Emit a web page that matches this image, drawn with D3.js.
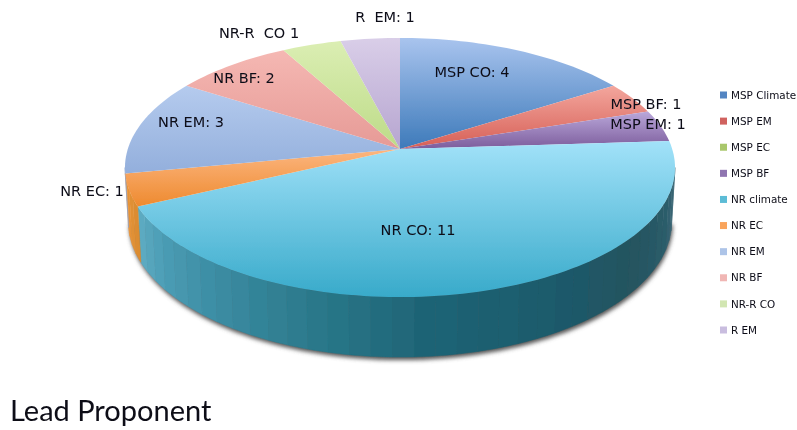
<!DOCTYPE html>
<html>
<head>
<meta charset="utf-8">
<script src="https://cdn.jsdelivr.net/npm/d3@7"></script>
<style>
  html, body { margin: 0; padding: 0; background: #fff; }
  svg { display: block; }
  text { fill: #0c0c18; }
</style>
</head>
<body>
<div id="chart"></div>
<script>
// dati
var categories = ["MSP Climate", "MSP EM", "MSP EC", "MSP BF", "NR climate", "NR EC", "NR EM", "NR BF", "NR-R CO", "R EM"];
var values = [4, 1, 0, 1, 11, 1, 3, 2, 1, 1];
var sliceLabels = ["MSP CO: 4", "MSP BF: 1", "", "MSP EM: 1", "NR CO: 11", "NR EC: 1", "NR EM: 3", "NR BF: 2", "NR-R  CO 1", "R  EM: 1"];
var title = "Lead Proponent";

var legendColors = ["#5285c2", "#d0625f", "#a9c76c", "#8f74b0", "#5cbcd6", "#f9a45c", "#adc4e8", "#f0b6b4", "#d2e6b2", "#c9bddf"];
var topColors = ["#a9c4ee", "#f3a69d", "#c6dc92", "#baa8da", "#a2e2f9", "#fcb680", "#b5cbee", "#f5b8b3", "#dbeeb3", "#d9cee8"];
var bottomColors = ["#3d7aba", "#d65f56", "#93b84f", "#7c5c9c", "#38aaca", "#ee8a2f", "#93afdc", "#e69a96", "#bddb88", "#b6a5d0"];

// posizione delle etichette, centro del testo
var labelX = [472, 646, 0, 648, 418, 92, 191, 244, 259, 385];
var labelY = [72, 104, 0, 124, 230, 191, 122, 78, 33, 17];

var width = 797;
var height = 430;

// la torta e' in prospettiva: l'apice non sta al centro dell'ellisse
var cx = 400, cy = 149;
var rx = 272.2, ry = 126.9;
var persp = 1 / 7;
var depth = 53;
var shrink = 0.988;

function project(a, lower) {
    var px = Math.sin(a), py = -Math.cos(a);
    var w = 1 - persp * py;
    var sx = rx * px / w, sy = ry * py / w;
    if (lower)
        return [cx + sx * shrink, cy + sy * shrink + depth / w];
    return [cx + sx, cy + sy];
}

var line = d3.line();
var svg = d3.select("#chart").append("svg")
            .attr("width", width)
            .attr("height", height)
            .style("font-family", "'DejaVu Sans', sans-serif");

var defs = svg.append("defs");
defs.append("filter").attr("id", "ombra")
    .attr("x", "-5%").attr("y", "-5%").attr("width", "110%").attr("height", "110%")
    .append("feGaussianBlur").attr("stdDeviation", 2.2);
defs.append("filter").attr("id", "sfoca")
    .attr("x", "-5%").attr("y", "-5%").attr("width", "110%").attr("height", "110%")
    .append("feGaussianBlur").attr("stdDeviation", 0.4);

var arcs = d3.pie().sort(null).value(d => d).startAngle(0).endAngle(2 * Math.PI)(values);

arcs.forEach(function(d, i) {
    var grad = defs.append("linearGradient").attr("id", "fetta" + i)
                   .attr("x1", 0).attr("y1", 0).attr("x2", 0).attr("y2", 1);
    grad.append("stop").attr("offset", 0).attr("stop-color", topColors[i]);
    grad.append("stop").attr("offset", 1).attr("stop-color", bottomColors[i]);
});

var chart = svg.append("g").attr("filter", "url(#sfoca)");

// il bordo laterale si vede solo tra i due estremi orizzontali
var wallStart = Math.acos(-persp);
var wallEnd = 2 * Math.PI - wallStart;
var step = 4 * Math.PI / 180;

function sample(a0, a1, n) {
    return d3.range(n + 1).map(k => a0 + (a1 - a0) * k / n);
}

// ombra sotto il bordo
var shadowAngles = sample(wallStart, wallEnd, 80);
chart.append("path")
     .attr("d", line(shadowAngles.map(a => project(a, true))) + "Z")
     .attr("transform", "translate(1,3)")
     .attr("fill", "#555")
     .attr("filter", "url(#ombra)");

var deg = Math.PI / 180;
var wallColor = {
    4: d3.scaleLinear()
         .domain([98, 112, 130, 150, 175, 195, 215, 232, 245].map(v => v * deg))
         .range(["#436c7a", "#2c5d6b", "#24545f", "#1b5a6b", "#1f6475", "#29788a", "#3a8ba1", "#4b9cb4", "#5fadc4"]),
    5: d3.scaleLinear().domain([245 * deg, 260 * deg]).range(["#d98a30", "#ee9a40"]),
    6: d3.scaleLinear().domain([259 * deg, 262 * deg]).range(["#8aa3cf", "#8aa3cf"])
};

// bordo laterale, a strisce come nel riferimento
var stripes = [];
arcs.forEach(function(d, i) {
    var a0 = Math.max(d.startAngle, wallStart);
    var a1 = Math.min(d.endAngle, wallEnd);
    if (a1 <= a0 || !wallColor[i]) return;
    var n = Math.max(1, Math.ceil((a1 - a0) / step));
    d3.range(n).forEach(function(k) {
        stripes.push({a0: a0 + (a1 - a0) * k / n, a1: a0 + (a1 - a0) * (k + 1) / n, color: wallColor[i]});
    });
});

chart.append("g").selectAll("path")
     .data(stripes)
     .join("path")
     .attr("d", function(s) {
         var angles = sample(s.a0, s.a1, 4);
         var upper = angles.map(a => project(a, false));
         var lower = angles.slice().reverse().map(a => project(a, true));
         return line(upper.concat(lower)) + "Z";
     })
     .attr("fill", s => s.color((s.a0 + s.a1) / 2))
     .attr("stroke", s => s.color((s.a0 + s.a1) / 2))
     .attr("stroke-width", 0.5);

// faccia superiore
chart.append("g").selectAll("path")
     .data(arcs.filter(d => d.value > 0))
     .join("path")
     .attr("d", function(d) {
         var n = Math.ceil((d.endAngle - d.startAngle) / (1.5 * deg));
         var pts = sample(d.startAngle, d.endAngle, n).map(a => project(a, false));
         return line([[cx, cy]].concat(pts)) + "Z";
     })
     .attr("fill", d => "url(#fetta" + d.index + ")");

// etichette delle fette
svg.append("g").selectAll("text")
   .data(sliceLabels.map((t, i) => ({t: t, i: i})).filter(d => d.t != ""))
   .join("text")
   .attr("x", d => labelX[d.i])
   .attr("y", d => labelY[d.i])
   .attr("dy", "0.35em")
   .attr("text-anchor", "middle")
   .attr("font-size", 14.5)
   .style("white-space", "pre")
   .attr("filter", "url(#sfoca)")
   .text(d => d.t);

// legenda
var legendY = d3.scalePoint().domain(categories).range([95, 330]);
var legend = svg.append("g").attr("filter", "url(#sfoca)")
                .selectAll("g")
                .data(categories)
                .join("g")
                .attr("transform", d => "translate(720," + legendY(d) + ")");

legend.append("rect")
      .attr("y", -3.5)
      .attr("width", 7)
      .attr("height", 7)
      .attr("fill", (d, i) => legendColors[i]);

legend.append("text")
      .attr("x", 11)
      .attr("dy", "0.35em")
      .attr("font-size", 10.4)
      .text(d => d);

svg.append("text")
   .attr("x", 10)
   .attr("y", 421)
   .attr("font-size", 29)
   .attr("font-family", "Lato, sans-serif")
   .attr("filter", "url(#sfoca)")
   .text(title);
</script>
</body>
</html>
